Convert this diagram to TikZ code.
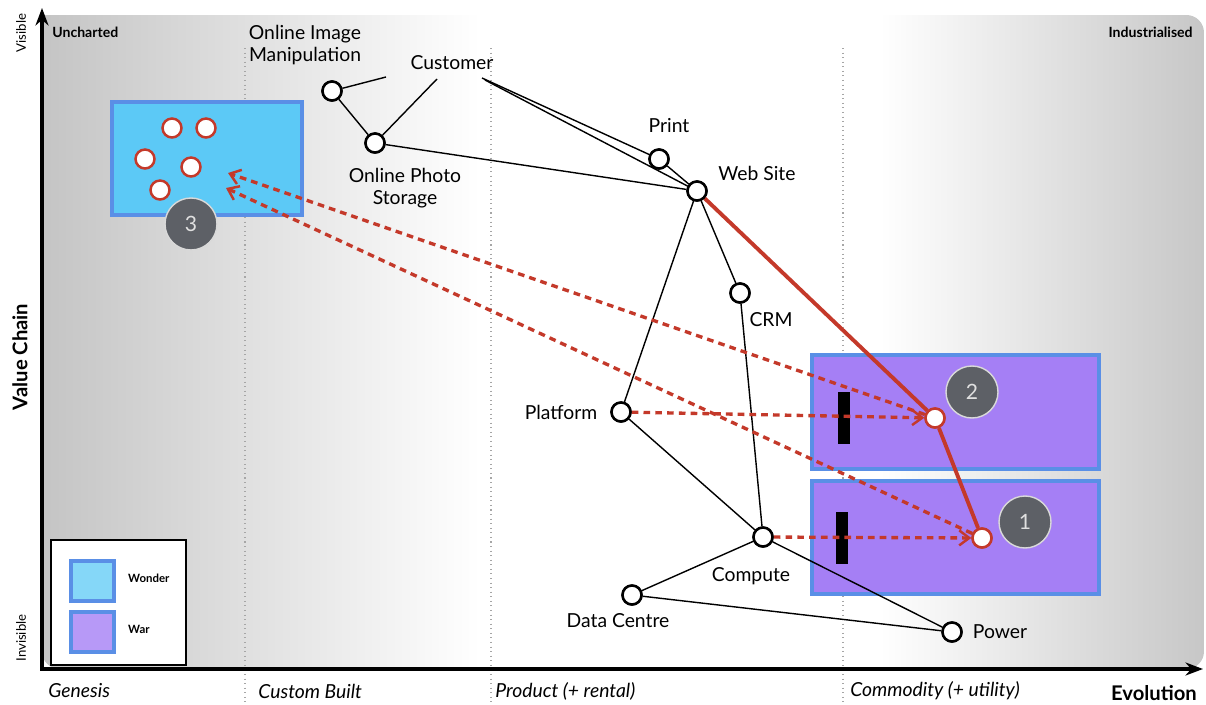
\documentclass[tikz,border=0pt]{standalone}
\usepackage{fontspec}
\setmainfont{Lato}
\usetikzlibrary{arrows.meta,positioning}

\definecolor{warfill}{HTML}{A57FF5}
\definecolor{wonderfill}{HTML}{5CC9F6}
\definecolor{boxline}{HTML}{5A8FE6}
\definecolor{movered}{HTML}{C4392A}
\definecolor{stagegray}{HTML}{5D6066}

\begin{document}
\begin{tikzpicture}[
    x=0.2mm, y=-0.2mm,
    comp/.style={circle, draw=black, fill=white, line width=1.4pt, minimum size=3.8mm, inner sep=0pt},
    moved/.style={comp, draw=movered},
    lbl/.style={font=\fontsize{11}{12.5}\selectfont, align=center, inner sep=0pt},
    stage/.style={font=\fontsize{11}{12.5}\selectfont\itshape, anchor=west, inner sep=0pt},
    corner/.style={font=\fontsize{8}{9}\selectfont\bfseries, inner sep=0pt},
    link/.style={line width=0.8pt},
    moveline/.style={line width=2.2pt, draw=movered},
    dasharrow/.style={line width=1.9pt, draw=movered, dash pattern=on 3.8pt off 2.9pt,
        -{Straight Barb[length=2mm, width=3mm, line width=1.4pt]}},
    zone/.style={draw=boxline, line width=1.8pt},
    num/.style={circle, fill=stagegray, draw=white!85!black, line width=0.8pt, minimum size=10.4mm,
        text=white!88!black, font=\fontsize{12}{13}\selectfont}
]
    \useasboundingbox (0,0) rectangle (1206,705);

    % background of the map
    \begin{scope}
        \clip[rounded corners=10pt] (42,15) -- (1204,15) -- (1204,669) -- (42,669) [sharp corners] -- cycle;
        \fill[white] (42,15) rectangle (1204,669);
        \shade[left color=black!23, right color=white] (42,15) rectangle (480,669);
        \shade[left color=white, right color=black!22] (880,15) rectangle (1204,669);
    \end{scope}

    % stage boundaries
    \foreach \sx in {245,491,843}
        \draw[gray!70, dotted, line width=0.6pt] (\sx,48) -- (\sx,705);

    % axes
    \draw[line width=2.2pt, -{Stealth[length=3.5mm, width=2.6mm]}] (42,670) -- (42,8);
    \draw[line width=2.2pt, -{Stealth[length=3.5mm, width=2.6mm]}] (40,669) -- (1203,669);

    \node[corner, anchor=west] (uncharted) at (52,32) {Uncharted};
    \node[corner, anchor=east] (industrial) at (1193,32) {Industrialised};
    \node[font=\fontsize{7.5}{8}\selectfont, rotate=90] (visible) at (21,33) {Visible};
    \node[font=\fontsize{7.5}{8}\selectfont, rotate=90] (invisible) at (21,638) {Invisible};
    \node[font=\fontsize{11.5}{12}\selectfont\bfseries, rotate=90] (valuechain) at (20,357) {Value Chain};

    \node[stage] (genesis) at (48,691) {Genesis};
    \node[stage] (custom) at (258,691) {Custom Built};
    \node[stage] (product) at (495,691) {Product (+ rental)};
    \node[stage] (commodity) at (850,691) {Commodity (+ utility)};
    \node[font=\fontsize{11.5}{12}\selectfont\bfseries, anchor=east] (evolution) at (1203,693) {Evolution};

    % wonder and war zones
    \draw[zone, fill=wonderfill] (112,102) rectangle (302,215);
    \draw[zone, fill=warfill] (812,355) rectangle (1099,469);
    \draw[zone, fill=warfill] (812,481) rectangle (1099,594);
    \fill[black] (838,392) rectangle (850,444);
    \fill[black] (836,512) rectangle (848,564);

    % components
    \node[comp] (oim) at (332,91) {};
    \node[comp] (ops) at (375,143) {};
    \node[comp] (print) at (659,159) {};
    \node[comp] (web) at (697,191) {};
    \node[comp] (crm) at (740,293) {};
    \node[comp] (platform) at (621,412) {};
    \node[comp] (compute) at (763,537) {};
    \node[comp] (datacentre) at (632,595) {};
    \node[comp] (power) at (952,632) {};
    \node[moved] (web2) at (935,418) {};
    \node[moved] (web1) at (982,538) {};

    \node[moved] (w1) at (172,128) {};
    \node[moved] (w2) at (206,128) {};
    \node[moved] (w3) at (145,159) {};
    \node[moved] (w4) at (191,167) {};
    \node[moved] (w5) at (160,190) {};

    \node[lbl] (oim-lbl) at (305,45) {Online Image\\Manipulation};
    \node[lbl] (customer) at (452,63) {Customer};
    \node[lbl] (ops-lbl) at (405,188) {Online Photo\\Storage};
    \node[lbl] (print-lbl) at (669,126) {Print};
    \node[lbl] (web-lbl) at (757,173) {Web Site};
    \node[lbl] (crm-lbl) at (771,320) {CRM};
    \node[lbl] (platform-lbl) at (561,412) {Platform};
    \node[lbl] (compute-lbl) at (751,576) {Compute};
    \node[lbl] (datacentre-lbl) at (618,621) {Data Centre};
    \node[lbl] (power-lbl) at (1000,632) {Power};

    \coordinate (cust-a) at (386,77);
    \coordinate (cust-b) at (437,79);
    \coordinate (cust-c) at (482,78);
    \coordinate (cust-d) at (485,80);

    % value chain links
    \draw[link] (oim) -- (cust-a);
    \draw[link] (ops) -- (cust-b);
    \draw[link] (oim) -- (ops);
    \draw[link] (print) -- (cust-c);
    \draw[link] (web) -- (cust-d);
    \draw[link] (ops) -- (web);
    \draw[link] (print) -- (web);
    \draw[link] (web) -- (platform);
    \draw[link] (web) -- (crm);
    \draw[link] (crm) -- (compute);
    \draw[link] (platform) -- (compute);
    \draw[link] (compute) -- (datacentre);
    \draw[link] (compute) -- (power);
    \draw[link] (datacentre) -- (power);

    \draw[moveline] (web) -- (web2);
    \draw[moveline] (web2) -- (web1);

    % moves
    \coordinate (wonder-a) at (228,173);
    \coordinate (wonder-b) at (226,188);
    \draw[dasharrow] (platform) -- (web2);
    \draw[dasharrow] (compute) -- (web1);
    \draw[dasharrow] (web2) -- (wonder-a);
    \draw[dasharrow] (web1) -- (wonder-b);

    % redraw nodes above the lines
    \foreach \n in {oim,ops,print,web,crm,platform,compute,datacentre,power}
        \node[comp] at (\n) {};
    \node[moved] at (web2) {};
    \node[moved] at (web1) {};

    \node[num] (stage1) at (1025,522) {1};
    \node[num] (stage2) at (972,392) {2};
    \node[num] (stage3) at (191,224) {3};

    % legend
    \draw[fill=white, line width=0.9pt] (51,540) rectangle (186,665);
    \draw[zone, fill=wonderfill!75!white] (71,561) rectangle (114,601);
    \draw[zone, fill=warfill!80!white] (71,612) rectangle (114,652);
    \node[font=\fontsize{6.5}{7}\selectfont\bfseries, anchor=west] (wonder-key) at (122,578) {Wonder};
    \node[font=\fontsize{6.5}{7}\selectfont\bfseries, anchor=west] (war-key) at (122,629) {War};
\end{tikzpicture}
\end{document}
